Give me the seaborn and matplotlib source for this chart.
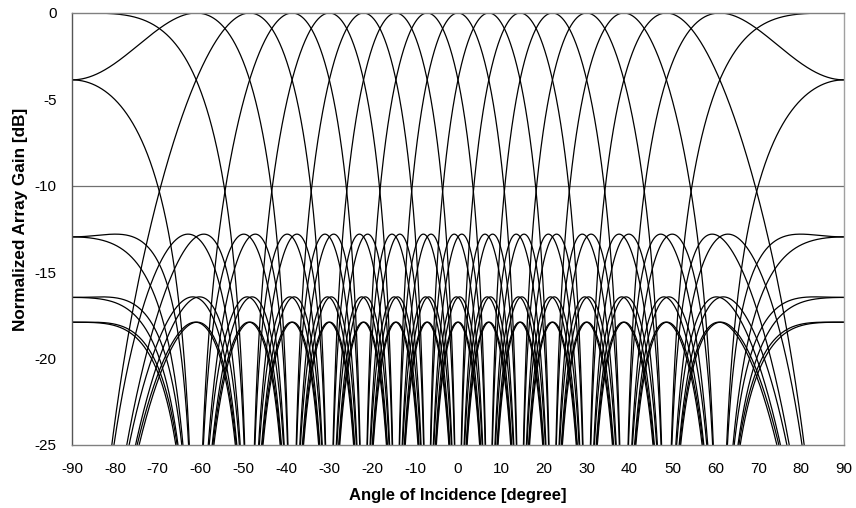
import numpy as np
import pandas as pd
import matplotlib
matplotlib.use("Agg")
import matplotlib.pyplot as plt
import seaborn as sns

# ---- data ----
n_elements = 8  # uniform linear array, half-wavelength spacing
beam_angles_deg = [-61.04, -48.59, -38.68, -30.0, -22.02, -14.48, -7.18, 0.0,
                   7.18, 14.48, 22.02, 30.0, 38.68, 48.59, 61.04, 90.0]
x_ticks = [-90, -80, -70, -60, -50, -40, -30, -20, -10, 0, 10, 20, 30, 40, 50, 60, 70, 80, 90]
y_ticks = [0, -5, -10, -15, -20, -25]
ref_line_db = -10
x_label = "Angle of Incidence [degree]"
y_label = "Normalized Array Gain [dB]"

# ---- array-factor patterns of each beam ----
theta = np.linspace(-90, 90, 3601)
rows = []
for b, a0 in enumerate(beam_angles_deg):
    psi = np.pi * (np.sin(np.radians(theta)) - np.sin(np.radians(a0)))
    num = np.sin(n_elements * psi / 2)
    den = n_elements * np.sin(psi / 2)
    with np.errstate(divide="ignore", invalid="ignore"):
        af = np.where(np.abs(den) < 1e-12, 1.0, np.abs(num / den))
    gain = 20 * np.log10(np.maximum(af, 1e-4))
    rows.append(pd.DataFrame({"angle": theta, "gain": gain, "beam": b}))
df = pd.concat(rows, ignore_index=True)

sns.set_theme(style="white")
plt.rcParams["font.family"] = ["Liberation Sans", "DejaVu Sans"]
plt.rcParams["axes.unicode_minus"] = False

fig = plt.figure(figsize=(8.56, 5.08), dpi=100)
ax = fig.add_axes([72 / 856, 63 / 508, 772 / 856, 432 / 508])

ax.axhline(ref_line_db, color="#707070", lw=0.9, zorder=1)
sns.lineplot(data=df, x="angle", y="gain", units="beam", estimator=None,
             color="black", lw=0.9, ax=ax, legend=False, zorder=2)

ax.set_xlim(-90, 90)
ax.set_ylim(-25, 0)
ax.set_xticks(x_ticks)
ax.set_yticks(y_ticks)
ax.tick_params(axis="both", length=0, labelsize=11, colors="black")
ax.tick_params(axis="x", pad=12)
ax.tick_params(axis="y", pad=11)
ax.set_xlabel(x_label, fontsize=12, fontweight="bold", labelpad=9, color="black")
ax.set_ylabel(y_label, fontsize=12.3, fontweight="bold", labelpad=5, color="black")
ax.yaxis.label.set_y(0.523)

for side, col in [("left", "#555555"), ("bottom", "#808080"),
                  ("right", "#a0a0a0"), ("top", "#808080")]:
    ax.spines[side].set_visible(True)
    ax.spines[side].set_color(col)
    ax.spines[side].set_linewidth(1.0)

fig.savefig("out.png", dpi=100)
